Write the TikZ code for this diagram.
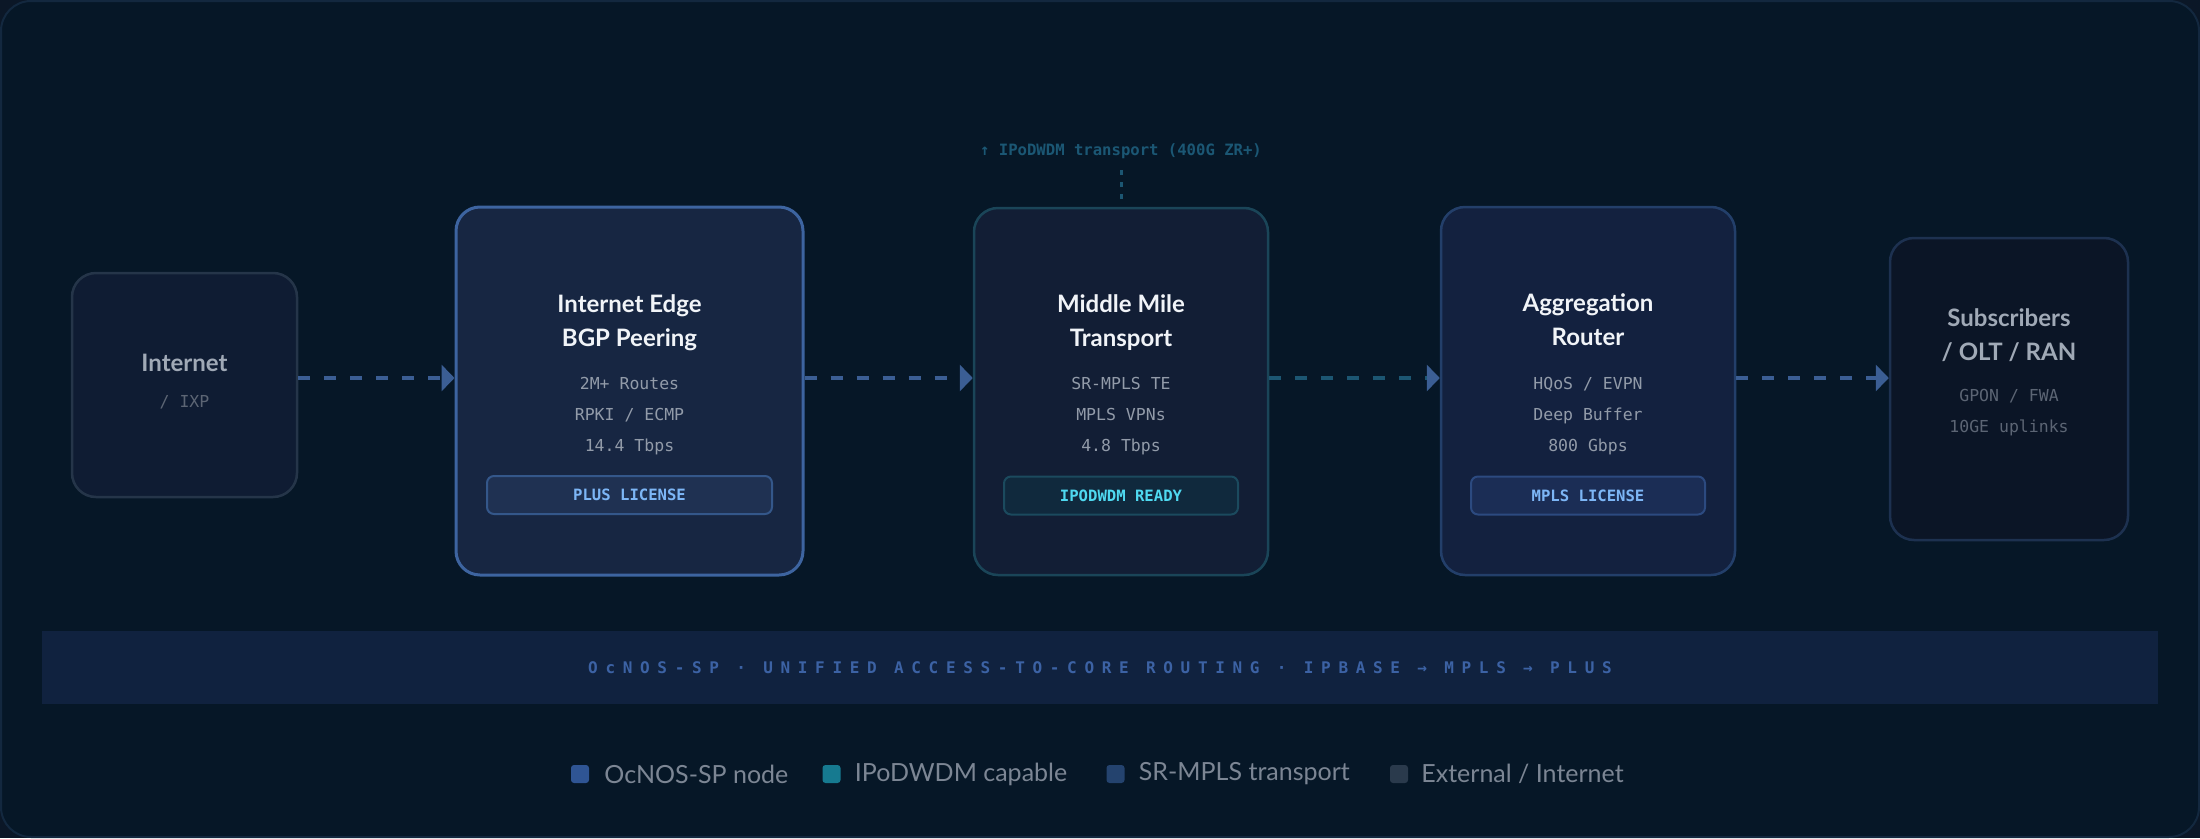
\documentclass[tikz,border=0pt]{standalone}
\usepackage{fontspec}
\setmainfont{Lato}
\setmonofont{DejaVu Sans Mono}
\newfontfamily\bandfont[LetterSpace=48]{DejaVu Sans Mono}
\usetikzlibrary{arrows.meta,positioning,calc}

\definecolor{pagebg}{HTML}{0B1727}
\definecolor{framebg}{HTML}{061727}
\definecolor{frameline}{HTML}{13283F}
\definecolor{extfill}{HTML}{0F1C33}
\definecolor{extline}{HTML}{253549}
\definecolor{edgefill}{HTML}{172642}
\definecolor{edgeline}{HTML}{3D64A0}
\definecolor{midfill}{HTML}{121E35}
\definecolor{midline}{HTML}{1A4558}
\definecolor{aggfill}{HTML}{13213F}
\definecolor{aggline}{HTML}{233F6A}
\definecolor{subfill}{HTML}{0B1526}
\definecolor{subline}{HTML}{1D3150}
\definecolor{titlewhite}{HTML}{F1F4F8}
\definecolor{titlegray}{HTML}{A0A9B6}
\definecolor{specgray}{HTML}{929BA9}
\definecolor{specdim}{HTML}{5C6574}
\definecolor{flowblue}{HTML}{3B5E94}
\definecolor{flowteal}{HTML}{1C5672}
\definecolor{wdmtext}{HTML}{1B5774}
\definecolor{badgefill}{HTML}{1F3152}
\definecolor{badgeline}{HTML}{34578A}
\definecolor{badgetext}{HTML}{7DB6F6}
\definecolor{wdmfill}{HTML}{10293D}
\definecolor{wdmline}{HTML}{1B4A5E}
\definecolor{wdmbadge}{HTML}{4FD9F0}
\definecolor{mplsfill}{HTML}{1B2D55}
\definecolor{mplsline}{HTML}{2C4A80}
\definecolor{bandfill}{HTML}{10223F}
\definecolor{bandtext}{HTML}{3C62A4}
\definecolor{legtext}{HTML}{7C8694}
\definecolor{legnode}{HTML}{2F5594}
\definecolor{legwdm}{HTML}{167A90}
\definecolor{legsr}{HTML}{24436E}
\definecolor{legext}{HTML}{2A3A4C}

\begin{document}
\begin{tikzpicture}[x=1pt, y=-1pt,
    card/.style={rectangle, rounded corners=24pt, line width=2.5pt, inner sep=0pt},
    title/.style={align=center, font=\fontsize{24}{34}\selectfont\bfseries, text=titlewhite},
    specs/.style={align=center, font=\ttfamily\fontsize{16.5}{31}\selectfont, text=specgray},
    badge/.style={rectangle, rounded corners=7pt, line width=2pt, minimum height=38pt,
        inner sep=0pt, font=\ttfamily\bfseries\fontsize{15.6}{18}\selectfont},
    flow/.style={draw=flowblue, line width=4pt, dash pattern=on 12pt off 14pt,
        -{Triangle[length=13pt,width=26pt]}},
    legsq/.style={rectangle, rounded corners=3pt, minimum size=18pt, inner sep=0pt},
    legtxt/.style={font=\fontsize{25}{30}\selectfont, text=legtext, inner sep=0pt, anchor=west}
    ]

    % Background and frame
    \fill[pagebg] (0,0) rectangle (2200,838);
    \draw[fill=framebg, draw=frameline, line width=2pt, rounded corners=30pt] (1,1) rectangle (2199,837);
    \useasboundingbox (0,0) rectangle (2200,838);

    % Nodes
    \node [card, fill=extfill, draw=extline, minimum width=225pt, minimum height=224pt] (inet) at (184.5,385) {};
    \node [title, text=titlegray] (inet-t) at (184.5,363) {Internet};
    \node [specs, text=specdim] (inet-s) at (184.5,402) {/ IXP};

    \node [card, fill=edgefill, draw=edgeline, line width=3pt, minimum width=347pt, minimum height=368pt] (edge) at (629.5,391) {};
    \node [title] (edge-t) at (629.5,323) {Internet Edge\\BGP Peering};
    \node [specs] (edge-s) at (629.5,416) {2M+ Routes\\RPKI / ECMP\\14.4 Tbps};
    \node [badge, fill=badgefill, draw=badgeline, text=badgetext, minimum width=285pt] (edge-b) at (629.5,495) {PLUS LICENSE};

    \node [card, fill=midfill, draw=midline, minimum width=294pt, minimum height=367pt] (mid) at (1121,391.5) {};
    \node [title] (mid-t) at (1121,323) {Middle Mile\\Transport};
    \node [specs] (mid-s) at (1121,416) {SR-MPLS TE\\MPLS VPNs\\4.8 Tbps};
    \node [badge, fill=wdmfill, draw=wdmline, text=wdmbadge, minimum width=234pt] (mid-b) at (1121,495.5) {IPODWDM READY};

    \node [card, fill=aggfill, draw=aggline, minimum width=294pt, minimum height=368pt] (agg) at (1588,391) {};
    \node [title] (agg-t) at (1588,320) {Aggregation\\Router};
    \node [specs] (agg-s) at (1588,416) {HQoS / EVPN\\Deep Buffer\\800 Gbps};
    \node [badge, fill=mplsfill, draw=mplsline, text=badgetext, minimum width=234pt] (agg-b) at (1588,495.5) {MPLS LICENSE};

    \node [card, fill=subfill, draw=subline, minimum width=238pt, minimum height=302pt] (subs) at (2009,389) {};
    \node [title, text=titlegray] (subs-t) at (2009,335) {Subscribers\\/ OLT / RAN};
    \node [specs, text=specdim] (subs-s) at (2009,413) {GPON / FWA\\10GE uplinks};

    % IPoDWDM note
    \node [font=\ttfamily\bfseries\fontsize{15.6}{18}\selectfont, text=wdmtext] (wdm) at (1121,151) {↑ IPoDWDM transport (400G ZR+)};

    % Paths
    \coordinate (row) at (0,378);
    \draw[flow] (inet.east |- row) -- (edge.west |- row);
    \draw[flow] (edge.east |- row) -- (mid.west |- row);
    \draw[flow, draw=flowteal, -{Triangle[length=13pt,width=26pt,color=flowblue]}] (mid.east |- row) -- (agg.west |- row);
    \draw[flow] (agg.east |- row) -- (subs.west |- row);
    \draw[draw=flowteal, line width=3pt, dash pattern=on 5pt off 7pt, shorten <=8pt, shorten >=8pt] (wdm.south) -- (mid.north);

    % Platform band
    \node [rectangle, fill=bandfill, minimum width=2116pt, minimum height=73pt, inner sep=0pt] (band) at (1100,667.5) {};
    \node [font=\bandfont\bfseries\fontsize{16}{18}\selectfont, text=bandtext] (band-t) at (band) {OcNOS-SP · UNIFIED ACCESS-TO-CORE ROUTING · IPBASE → MPLS → PLUS};

    % Legend
    \node [legsq, fill=legnode] (leg1) at (580,774) {};
    \node [legtxt, right=15pt of leg1] (leg1-t) {OcNOS-SP node};
    \node [legsq, fill=legwdm] (leg2) at (831.5,774) {};
    \node [legtxt, right=14pt of leg2] (leg2-t) {IPoDWDM capable};
    \node [legsq, fill=legsr] (leg3) at (1115.5,774) {};
    \node [legtxt, right=14pt of leg3] (leg3-t) {SR-MPLS transport};
    \node [legsq, fill=legext] (leg4) at (1399,774) {};
    \node [legtxt, right=13pt of leg4] (leg4-t) {External / Internet};
\end{tikzpicture}
\end{document}
